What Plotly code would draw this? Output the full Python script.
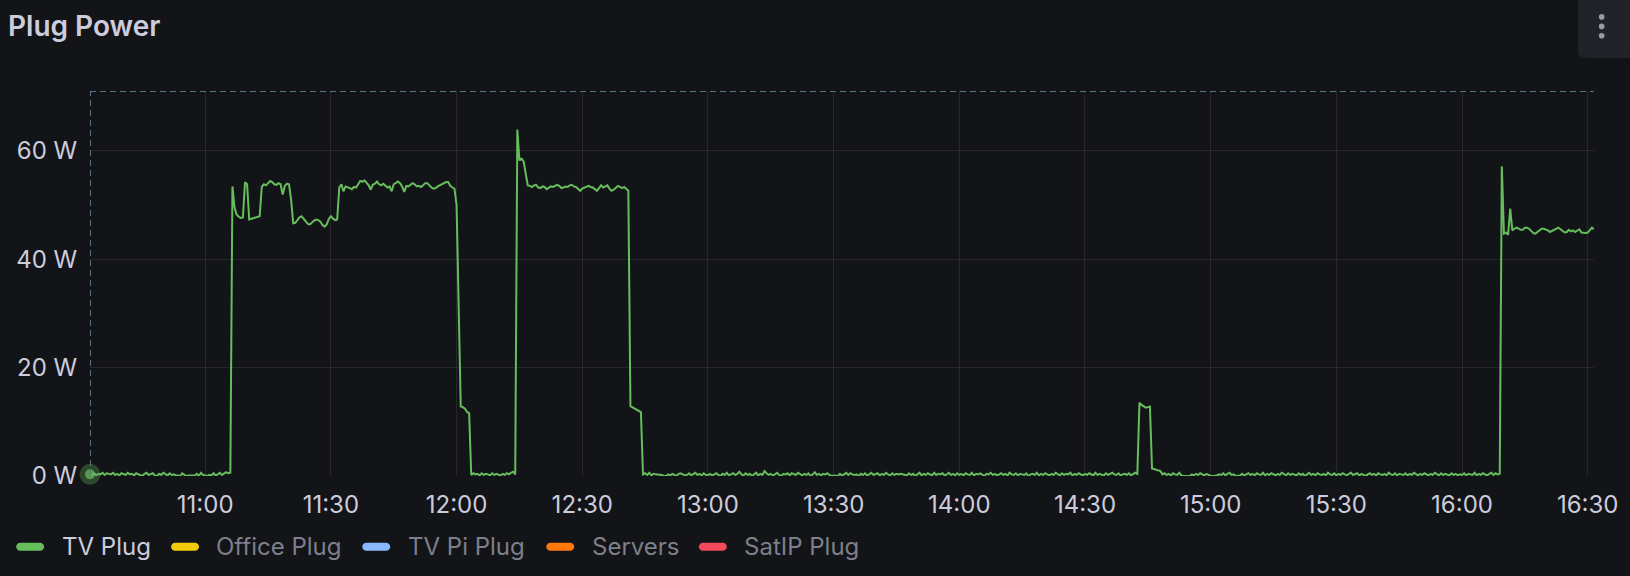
import plotly.graph_objects as go
import pandas as pd

# ---------------- data ----------------
series_names = ["TV Plug", "Office Plug", "TV Pi Plug", "Servers", "SatIP Plug"]
series_colors = ["#66BD5C", "#F2CC0C", "#8AB8FF", "#FF780A", "#F2495C"]
series_visible = [True, False, False, False, False]

sample_step_s = 30
y_tick_values = [0, 20, 40, 60]
y_tick_labels = ["0 W", "20 W", "40 W", "60 W"]
y_max = 71

# TV Plug power (W), one value every 30 s, grouped by hour
tv_1032 = [0.3, 0.2, 0.5, 0.1, 0.4, 0.3, 0.6, 0.2, 0.5, 0.4, 0.3, 0.6, 0.2, 0.4, 0.1, 0.5, 0.3, 0.2, 0.6, 0.3,
           0.4, 0.1, 0.5, 0.3, 0.2, 0.0, 0.4, 0.6, 0.2, 0.3, 0.5, 0.1, 0.0, 0.4, 0.2, 0.6, 0.3, 0.1, 0.5, 0.2,
           0.3, 0.1, 0.1, 0.0, 0.5, 0.2, 0.0, 0.1, 0.1, 0.0, 0.1, 0.4, 0.0, 0.6, 0.2]
tv_1100 = [0.1, 0.0, 0.2, 0.1, 0.5, 0.1, 0.3, 0.6, 0.2, 0.4, 0.7, 0.5, 0.6,
           53.4, 49.5, 48.2, 47.8, 47.6, 47.7, 54.2, 53.8, 47.3, 47.4, 47.5, 47.6, 47.7, 47.9,
           53.3, 53.8, 53.6, 54.0, 54.4, 54.2, 53.8, 53.7, 54.0, 53.8, 51.9, 53.5, 53.9, 53.8, 51.0,
           46.6, 46.7, 47.2, 47.7, 47.9, 47.5, 46.9, 46.5, 46.4, 46.8, 47.1, 47.3, 47.2, 46.9, 46.3, 46.0,
           46.4, 47.4, 47.9, 47.5, 47.2, 47.3,
           53.2, 53.8, 52.5, 53.4, 53.3, 53.1, 52.9, 53.3, 53.2, 53.8, 54.4, 54.3, 54.5, 54.1, 53.6, 52.8,
           53.7, 53.9, 54.3, 53.8, 53.6, 53.9, 53.5, 53.2, 53.4, 52.5, 53.8, 54.1, 54.3, 54.0, 53.4, 52.4,
           53.5, 53.4, 53.7, 54.0, 53.8, 53.4, 53.5, 53.3, 53.6, 54.0, 54.0, 53.6, 53.2, 53.0, 53.1, 53.4,
           53.6, 53.9, 54.1, 54.2, 54.2, 53.5, 53.2, 53.0]
tv_1200 = [50.0, 31.0, 12.8, 12.7, 12.4, 11.8, 11.6,
           0.2, 0.5, 0.3, 0.4, 0.1, 0.5, 0.2, 0.4, 0.3, 0.1, 0.5, 0.2, 0.4, 0.3, 0.1, 0.4, 0.2, 0.5, 0.3, 0.6, 0.8, 0.3,
           63.9, 58.2, 58.5, 58.0, 55.5, 53.6,
           53.5, 53.3, 53.6, 53.7, 53.2, 53.1, 53.4, 53.3, 52.9, 53.1, 53.4, 53.3, 53.5, 53.7, 53.5, 53.1,
           53.2, 53.4, 53.3, 53.6, 53.7, 53.4, 53.3, 52.9, 52.6, 53.0, 53.2, 53.3, 53.5, 53.3, 53.2, 52.9,
           52.6, 53.1, 53.6, 53.2, 53.4, 53.6, 53.0, 52.6, 52.8, 53.1, 53.5, 53.3, 53.1, 53.3, 52.9, 52.6,
           12.9, 12.7, 12.5, 12.3, 12.0, 11.8,
           0.3, 0.5, 0.2, 0.6, 0.1, 0.4, 0.3, 0.3, 0.3, 0.2, 0.0, 0.0, 0.3, 0.1, 0.4, 0.2, 0.0, 0.4, 0.5, 0.3,
           0.1, 0.2, 0.5, 0.1, 0.3, 0.6, 0.2, 0.4, 0.1, 0.5, 0.2]
tv_1300 = [0.2, 0.4, 0.1, 0.3, 0.5, 0.2, 0.0, 0.4, 0.2, 0.6, 0.1, 0.3, 0.5, 0.2, 0.4, 0.8, 0.3, 0.1, 0.5, 0.2,
           0.4, 0.0, 0.3, 0.6, 0.1, 0.4, 0.2, 0.9, 0.5, 0.2, 0.4, 0.1, 0.3, 0.6, 0.2, 0.0, 0.4, 0.3, 0.5, 0.1,
           0.5, 0.4, 0.2, 0.6, 0.3, 0.1, 0.4, 0.2, 0.5, 0.0, 0.3, 0.7, 0.2, 0.4, 0.1, 0.4, 0.3, 0.5, 0.2, 0.0,
           0.1, 0.0, 0.0, 0.4, 0.1, 0.3, 0.6, 0.2, 0.5, 0.3, 0.2, 0.3, 0.0, 0.4, 0.2, 0.5, 0.1, 0.3, 0.6, 0.2,
           0.3, 0.5, 0.1, 0.4, 0.2, 0.6, 0.3, 0.1, 0.5, 0.2, 0.4, 0.3, 0.4, 0.3, 0.3, 0.1, 0.5, 0.2, 0.4, 0.0,
           0.3, 0.6, 0.1, 0.4, 0.2, 0.5, 0.3, 0.1, 0.6, 0.2, 0.4, 0.3, 0.5, 0.1, 0.3, 0.6, 0.2, 0.4, 0.1, 0.5]
tv_1400 = [0.2, 0.4, 0.1, 0.5, 0.3, 0.2, 0.6, 0.1, 0.4, 0.3, 0.5, 0.2, 0.0, 0.4, 0.3, 0.6, 0.2, 0.4, 0.1, 0.3,
           0.5, 0.2, 0.4, 0.1, 0.6, 0.3, 0.2, 0.5, 0.1, 0.4, 0.3, 0.2, 0.5, 0.0, 0.3, 0.4, 0.2, 0.6, 0.1, 0.4,
           0.2, 0.5, 0.3, 0.1, 0.4, 0.2, 0.6, 0.3, 0.1, 0.5, 0.2, 0.4, 0.3, 0.6, 0.1, 0.4, 0.2, 0.5, 0.3, 0.1,
           0.4, 0.2, 0.5, 0.3, 0.1, 0.6, 0.2, 0.4, 0.3, 0.1, 0.5, 0.2, 0.4, 0.6, 0.3, 0.2, 0.5, 0.1, 0.3, 0.4,
           0.2, 0.5, 0.1, 0.3, 0.6,
           0.4, 13.5, 13.1, 12.9, 12.6, 12.7, 12.8, 1.4, 1.3, 1.2, 1.1, 0.9,
           0.3, 0.5, 0.2, 0.4, 0.1, 0.5, 0.3, 0.2, 0.6, 0.1, 0.0, 0.0, 0.0, 0.0, 0.3, 0.1, 0.4, 0.2, 0.5, 0.3,
           0.1, 0.4, 0.2]
tv_1500 = [0.0, 0.0, 0.0, 0.1, 0.3, 0.2, 0.5, 0.1, 0.4, 0.6, 0.2, 0.3, 0.0, 0.0, 0.1, 0.4, 0.1, 0.3, 0.5, 0.2,
           0.4, 0.1, 0.5, 0.3, 0.2, 0.6, 0.1, 0.4, 0.2, 0.5, 0.3, 0.1, 0.4, 0.2, 0.6, 0.3, 0.1, 0.5, 0.2, 0.4,
           0.3, 0.1, 0.5, 0.2, 0.4, 0.0, 0.3, 0.6, 0.2, 0.4, 0.1, 0.5, 0.3, 0.2, 0.4, 0.1, 0.6, 0.3, 0.2, 0.5,
           0.1, 0.4, 0.2, 0.5, 0.3, 0.1, 0.4, 0.6, 0.2, 0.3, 0.5, 0.1, 0.4, 0.2, 0.0, 0.3, 0.5, 0.2, 0.4, 0.1,
           0.5, 0.3, 0.2, 0.4, 0.1, 0.6, 0.3, 0.2, 0.5, 0.1, 0.4, 0.3, 0.2, 0.5, 0.1, 0.4, 0.2, 0.6, 0.3, 0.1,
           0.4, 0.2, 0.5, 0.3, 0.1, 0.4, 0.2, 0.6, 0.3, 0.1, 0.5, 0.2, 0.4, 0.3, 0.1, 0.5, 0.2, 0.4, 0.1, 0.3]
tv_1600 = [0.2, 0.5, 0.1, 0.4, 0.3, 0.2, 0.6, 0.1, 0.4, 0.2, 0.5, 0.3, 0.1, 0.4, 0.6, 0.2, 0.5, 0.3, 0.4,
           57.1, 44.7, 44.9, 44.5, 49.3, 45.3, 45.6, 45.8, 45.6, 45.4, 45.4, 45.8, 45.8, 45.6, 45.2, 44.8,
           44.7, 45.0, 45.3, 45.6, 45.6, 45.5, 45.3, 45.0, 45.2, 45.5, 45.7, 45.8, 45.5, 45.2, 44.9, 45.0,
           45.4, 45.1, 45.3, 45.0, 45.2, 45.5, 44.9, 44.8, 44.8, 44.9, 45.3, 45.8, 45.5]

segment_starts = ["2024-01-01 10:32:30", "2024-01-01 11:00:00", "2024-01-01 12:00:00",
                  "2024-01-01 13:00:00", "2024-01-01 14:00:00", "2024-01-01 15:00:00",
                  "2024-01-01 16:00:00"]
segment_values = [tv_1032, tv_1100, tv_1200, tv_1300, tv_1400, tv_1500, tv_1600]

times, values = [], []
for start, vals in zip(segment_starts, segment_values):
    t0 = pd.Timestamp(start)
    for i, v in enumerate(vals):
        times.append(t0 + pd.Timedelta(seconds=sample_step_s * i))
        values.append(v)

# ---------------- style ----------------
W, H = 1630, 576
L, R, T, B = 90, 32, 91, 100
BG = "#131418"
TXT = "#ccccdc"
TXT_DIM = "#7e7f8a"
GRID = "rgba(204,204,220,0.10)"
DASH = "#577484"
FONT = "Inter"

pw, ph = W - L - R, H - T - B


def px(x):
    return (x - L) / pw


def py(y):
    return (H - B - y) / ph


fig = go.Figure()
fig.add_trace(go.Scatter(x=times, y=values, mode="lines", name=series_names[0],
                         line=dict(color=series_colors[0], width=2), hoverinfo="skip"))
# hovered first point
fig.add_trace(go.Scatter(x=[times[0], times[0]], y=[values[0], values[0]], mode="markers",
                         marker=dict(size=[21, 10],
                                     color=["rgba(102,189,92,0.45)", series_colors[0]],
                                     line=dict(width=0)),
                         cliponaxis=False, hoverinfo="skip", showlegend=False))

shapes = []
# dashed cursor lines
shapes.append(dict(type="line", xref="x", yref="y", x0=times[0], x1=times[-1], y0=y_max, y1=y_max,
                   line=dict(color=DASH, width=2, dash="6px,4px")))
shapes.append(dict(type="line", xref="x", yref="y", x0=times[0], x1=times[0], y0=0, y1=y_max,
                   line=dict(color=DASH, width=2, dash="6px,4px")))


def path_from_px(cmds):
    out = []
    for c in cmds:
        if c[0] in ("M", "L"):
            out.append(f"{c[0]} {px(c[1]):.6f},{py(c[2]):.6f}")
        elif c[0] == "C":
            out.append("C " + " ".join(f"{px(c[i]):.6f},{py(c[i+1]):.6f}" for i in (1, 3, 5)))
        elif c[0] == "Z":
            out.append("Z")
    return " ".join(out)


def pill(x0, x1, yc, h):
    r = h / 2
    k = 0.5523 * r
    yt, yb = yc - r, yc + r
    return path_from_px([
        ("M", x0 + r, yt), ("L", x1 - r, yt),
        ("C", x1 - r + k, yt, x1, yc - k, x1, yc),
        ("C", x1, yc + k, x1 - r + k, yb, x1 - r, yb),
        ("L", x0 + r, yb),
        ("C", x0 + r - k, yb, x0, yc + k, x0, yc),
        ("C", x0, yc - k, x0 + r - k, yt, x0 + r, yt), ("Z",)])


# legend (Grafana style)
legend_pill_x = [16, 171.3, 363, 547.5, 700.5]
legend_text_x = [60.7, 215.7, 407.4, 592, 745]
legend_y = 546.7
annotations = []
for name, col, vis, x0, tx in zip(series_names, series_colors, series_visible, legend_pill_x, legend_text_x):
    shapes.append(dict(type="path", xref="paper", yref="paper", path=pill(x0, x0 + 28, legend_y, 8),
                       fillcolor=col, line=dict(width=0), layer="above"))
    annotations.append(dict(xref="paper", yref="paper", x=px(tx - 1), y=py(legend_y), xanchor="left",
                            yanchor="middle", showarrow=False, text=name,
                            font=dict(family=FONT, size=24, color=TXT if vis else TXT_DIM)))

# title
annotations.append(dict(xref="paper", yref="paper", x=px(6), y=py(26), xanchor="left", yanchor="middle",
                        showarrow=False, text="Plug Power",
                        font=dict(family=FONT, size=28, color=TXT, weight=600)))

# panel menu button
shapes.append(dict(type="path", xref="paper", yref="paper", fillcolor="#212328", line=dict(width=0),
                   path=path_from_px([("M", 1582, -2), ("L", 1582, 51),
                                      ("C", 1582, 55, 1585, 58, 1589, 58),
                                      ("L", 1634, 58), ("L", 1634, -2), ("Z",)])))
for cy in (16.9, 26.4, 35.8):
    shapes.append(dict(type="circle", xref="paper", yref="paper", fillcolor="#9a9aa8", line=dict(width=0),
                       x0=px(1605.7 - 2.8), x1=px(1605.7 + 2.8), y0=py(cy + 2.8), y1=py(cy - 2.8)))

fig.update_layout(
    width=W, height=H, margin=dict(l=L, r=R, t=T, b=B),
    paper_bgcolor=BG, plot_bgcolor=BG, showlegend=False,
    font=dict(family=FONT, color=TXT, size=24),
    shapes=shapes, annotations=annotations, hovermode=False,
    xaxis=dict(type="date", range=[times[0], times[-1]], tickformat="%H:%M",
               tick0="2024-01-01 11:00:00", dtick=30 * 60 * 1000,
               showgrid=True, gridcolor=GRID, gridwidth=1, zeroline=False, showline=False,
               ticks="outside", ticklen=7, tickcolor="rgba(0,0,0,0)",
               tickfont=dict(family=FONT, size=24, color=TXT)),
    yaxis=dict(range=[0, y_max], tickvals=y_tick_values, ticktext=y_tick_labels,
               showgrid=True, gridcolor=GRID, gridwidth=1, zeroline=False, showline=False,
               ticks="outside", ticklen=7, tickcolor="rgba(0,0,0,0)",
               tickfont=dict(family=FONT, size=24, color=TXT)),
)

fig.write_html("out.html")
